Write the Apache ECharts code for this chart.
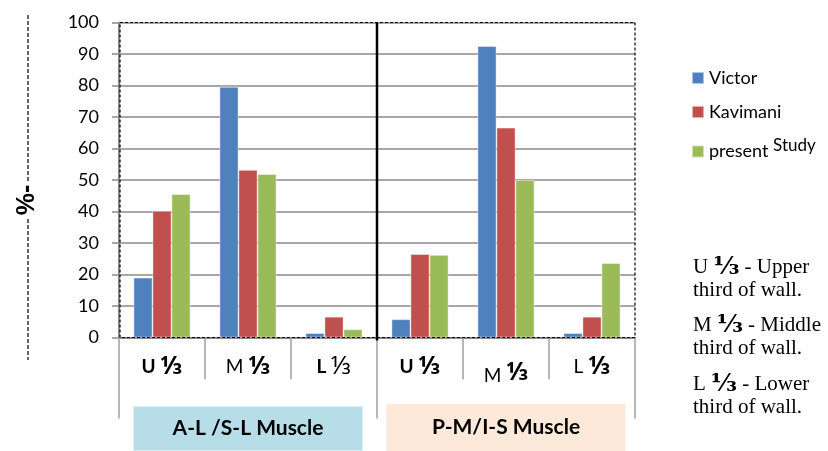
<!DOCTYPE html>
<html>
<head>
<meta charset="utf-8">
<script src="https://cdn.jsdelivr.net/npm/echarts@6/dist/echarts.min.js"></script>
<style>html,body{margin:0;padding:0;background:#fff}#c{width:828px;height:451px}</style>
</head>
<body>
<div id="c"></div>
<script>
// ---- data ----
var categories = ['AL-U', 'AL-M', 'AL-L', 'PM-U', 'PM-M', 'PM-L'];
var categoryLabels = ['{b|U }{fb|⅓}', '{n|M }{fb|⅓}', '{b|L }{fn|⅓}', '{b|U }{fb|⅓}', '{low|M }{lowf|⅓}', '{n|L }{fb|⅓}'];
var groups = ['A-L /S-L Muscle', 'P-M/I-S Muscle'];
var seriesNames = ['Victor', 'Kavimani', 'present Study'];
var victor   = [19, 79.6, 1.4, 5.8, 92.5, 1.4];
var kavimani = [40.2, 53.2, 6.6, 26.5, 66.6, 6.6];
var present  = [45.5, 51.9, 2.6, 26.2, 50, 23.6];
var yTicks = [0, 10, 20, 30, 40, 50, 60, 70, 80, 90, 100];
var yTitle = '%-';
var notes = [
  ['U ', '⅓', ' - Upper'], ['third of wall.'],
  ['M ', '⅓', ' - Middle'], ['third of wall.'],
  ['L ', '⅓', ' - Lower'], ['third of wall.']
];

var colors = ['#4f81bd', '#c0504d', '#9bbb59'];
var FONT = 'Lato, "Noto Sans", sans-serif';
var FRAC = '"Noto Sans", "DejaVu Sans", sans-serif';
var chart = echarts.init(document.getElementById('c'), null, {renderer: 'canvas'});

function bar(name, data, color) {
  return {
    name: name, type: 'bar', data: data, barWidth: 19, barGap: '0%',
    itemStyle: {color: color, borderColor: 'rgba(255,255,255,0.55)', borderWidth: 0.8},
    emphasis: {disabled: true}
  };
}

var rich = {
  b: {fontSize: 19, fontWeight: 'bold', fontFamily: FONT, color: '#000'},
  n: {fontSize: 19, fontFamily: FONT, color: '#000'},
  fb: {fontSize: 25, fontWeight: 'bold', fontFamily: FRAC, color: '#000'},
  fn: {fontSize: 25, fontFamily: FRAC, color: '#000'},
  low: {fontSize: 19, fontFamily: FONT, color: '#000', padding: [12, 0, 0, 0]},
  lowf: {fontSize: 25, fontWeight: 'bold', fontFamily: FRAC, color: '#000', padding: [6, 0, 0, 0]}
};

chart.setOption({
  animation: false,
  color: colors,
  grid: {left: 119, top: 22.5, width: 516, height: 315, containLabel: false, outerBoundsMode: 'none'},
  legend: {
    orient: 'vertical', left: 686, top: 64, itemWidth: 12, itemHeight: 12, itemGap: 16,
    icon: 'rect', selectedMode: false,
    textStyle: {fontSize: 18, fontFamily: FONT, color: '#000',
      rich: {s: {fontSize: 17, fontFamily: FONT, color: '#000', padding: [0, 0, 12, 0]}}},
    formatter: function (n) { return n === 'present Study' ? 'present {s|Study}' : n; },
    data: seriesNames
  },
  xAxis: [{
    type: 'category', data: categories, position: 'bottom',
    axisLine: {lineStyle: {color: '#8a8a8a', width: 2}},
    axisTick: {show: true, interval: 0, length: 42, lineStyle: {color: '#a0a0a0', width: 1.5}},
    axisLabel: {interval: 0, margin: 17, rich: rich,
      formatter: function (v, i) { return categoryLabels[i]; }},
    splitLine: {show: false}
  }, {
    type: 'category', data: groups, position: 'bottom', offset: 0,
    axisLine: {show: false},
    axisTick: {show: true, interval: 0, length: 81, lineStyle: {color: '#a0a0a0', width: 1.5}},
    axisLabel: {interval: 0, margin: 69,
      formatter: function (v, i) { return i === 0 ? '{a|' + v + '}' : '{p|' + v + '}'; },
      rich: {
        a: {width: 229, height: 44, lineHeight: 44, align: 'center', backgroundColor: '#b7dde8',
            fontSize: 21, fontWeight: 'bold', fontFamily: FONT, color: '#000'},
        p: {width: 239, height: 47, lineHeight: 42, align: 'center', backgroundColor: '#fde9d9',
            fontSize: 21, fontWeight: 'bold', fontFamily: FONT, color: '#000'}
      }},
    splitLine: {show: false}
  }],
  yAxis: {
    type: 'value', min: 0, max: 100, interval: 10,
    axisLine: {show: true, lineStyle: {color: '#8a8a8a', width: 2}},
    axisTick: {show: true, inside: false, length: 7, lineStyle: {color: '#8a8a8a', width: 1.5}},
    axisLabel: {margin: 20, fontSize: 18, fontFamily: FONT, color: '#000',
      formatter: function (v) { return yTicks.indexOf(v) >= 0 ? String(v) : ''; }},
    splitLine: {show: true, lineStyle: {color: '#8a8a8a', width: 1.5}}
  },
  series: [bar(seriesNames[0], victor, colors[0]), bar(seriesNames[1], kavimani, colors[1]), bar(seriesNames[2], present, colors[2])]
});

// ---- overlay: border, separator, y-title dashed line, notes ----
var x2 = chart.convertToPixel({xAxisIndex: 0}, 2);
var x3 = chart.convertToPixel({xAxisIndex: 0}, 3);
var yTop = chart.convertToPixel({yAxisIndex: 0}, 100);
var yZero = chart.convertToPixel({yAxisIndex: 0}, 0);
var step = x3 - x2;
var gLeft = chart.convertToPixel({xAxisIndex: 0}, 0) - step / 2;
var gRight = chart.convertToPixel({xAxisIndex: 0}, 5) + step / 2;
var sepX = (x2 + x3) / 2;

var graphics = [
  {type: 'rect', silent: true, z: 10,
   shape: {x: gLeft + 1, y: yTop, width: gRight - gLeft - 1, height: yZero - yTop},
   style: {fill: 'none', stroke: '#000', lineWidth: 1.2, lineDash: [3, 2]}},
  {type: 'line', silent: true, z: 11,
   shape: {x1: sepX, y1: yTop, x2: sepX, y2: yZero + 3},
   style: {stroke: '#000', lineWidth: 2.5}},
  {type: 'line', silent: true, z: 1,
   shape: {x1: 28, y1: 15, x2: 28, y2: 360},
   style: {stroke: '#000', lineWidth: 1.2, lineDash: [4, 2]}},
  {type: 'text', silent: true, z: 5, x: 27, y: 200, rotation: Math.PI / 2,
   style: {text: yTitle, align: 'center', verticalAlign: 'middle', fill: '#000',
     fontSize: 25, fontWeight: 'bold', fontFamily: '"Liberation Sans", Arial, sans-serif',
     backgroundColor: '#fff', padding: [0, 2, 0, 2]}}
];
var noteY = [268, 293, 326, 351, 385, 410];
notes.forEach(function (parts, i) {
  var txt = parts.length === 3 ? parts[0] + '{b|' + parts[1] + '}' + parts[2] : parts[0];
  graphics.push({type: 'text', silent: true, left: 693, top: noteY[i] - 13,
    style: {text: txt, fill: '#000', fontSize: 21, fontFamily: '"Liberation Serif", "Times New Roman", serif',
      rich: {b: {fontSize: 25, fontWeight: 'bold', fontFamily: '"DejaVu Serif", "Liberation Serif", serif', fill: '#000'}}}});
});
chart.setOption({graphic: graphics});
</script>
</body>
</html>
